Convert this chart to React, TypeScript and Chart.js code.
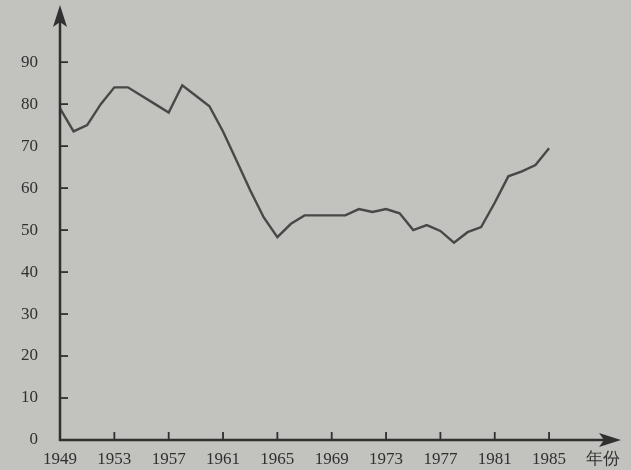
import React, { useEffect, useRef } from "react";
import { Chart, registerables } from "chart.js";

Chart.register(...registerables);

const years = [
  1949, 1950, 1951, 1952, 1953, 1954, 1955, 1956, 1957, 1958, 1959, 1960,
  1961, 1962, 1963, 1964, 1965, 1966, 1967, 1968, 1969, 1970, 1971, 1972,
  1973, 1974, 1975, 1976, 1977, 1978, 1979, 1980, 1981, 1982, 1983, 1984, 1985,
];
const values = [
  79, 73.5, 75, 80, 84, 84, 82, 80, 78, 84.5, 82, 79.5,
  73.5, 66.5, 59.5, 53, 48.3, 51.5, 53.5, 53.5, 53.5, 53.5, 55, 54.3,
  55, 54, 50, 51.2, 49.8, 47, 49.5, 50.7, 56.5, 62.8, 64, 65.5, 69.5,
];
const xTickValues = [1949, 1953, 1957, 1961, 1965, 1969, 1973, 1977, 1981, 1985, 1989];
const xTickMarks = [1953, 1957, 1961, 1965, 1969, 1973, 1977, 1981, 1985];
const xAxisLabel = "年份";
const yTickValues = [0, 10, 20, 30, 40, 50, 60, 70, 80, 90];

const BG = "#c2c2be";
const INK = "#303030";

const axesPlugin = {
  id: "axesArrows",
  beforeDraw(chart: any) {
    const { ctx, width, height } = chart;
    ctx.save();
    ctx.fillStyle = BG;
    ctx.fillRect(0, 0, width, height);
    ctx.restore();
  },
  afterDraw(chart: any) {
    const { ctx, chartArea, scales } = chart;
    const x0 = chartArea.left;
    const y0 = chartArea.bottom;
    ctx.save();
    ctx.strokeStyle = INK;
    ctx.fillStyle = INK;
    ctx.lineWidth = 2.5;
    const topY = 5;
    // y axis
    ctx.beginPath();
    ctx.moveTo(x0, y0 + 1);
    ctx.lineTo(x0, topY + 14);
    ctx.stroke();
    // x axis
    const tipX = 621;
    ctx.beginPath();
    ctx.moveTo(x0 - 1, y0);
    ctx.lineTo(tipX - 12, y0);
    ctx.stroke();
    // y arrow
    ctx.beginPath();
    ctx.moveTo(x0, topY);
    ctx.lineTo(x0 - 7, topY + 22);
    ctx.lineTo(x0, topY + 17);
    ctx.lineTo(x0 + 7, topY + 22);
    ctx.closePath();
    ctx.fill();
    // x arrow
    ctx.beginPath();
    ctx.moveTo(tipX, y0);
    ctx.lineTo(tipX - 22, y0 - 7);
    ctx.lineTo(tipX - 17, y0);
    ctx.lineTo(tipX - 22, y0 + 7);
    ctx.closePath();
    ctx.fill();
    // tick marks (inside)
    ctx.lineWidth = 1.8;
    for (const v of yTickValues) {
      if (v === 0) continue;
      const py = scales.y.getPixelForValue(v);
      ctx.beginPath();
      ctx.moveTo(x0, py);
      ctx.lineTo(x0 + 8, py);
      ctx.stroke();
    }
    for (const v of xTickMarks) {
      const px = scales.x.getPixelForValue(v);
      ctx.beginPath();
      ctx.moveTo(px, y0);
      ctx.lineTo(px, y0 - 8);
      ctx.stroke();
    }
    ctx.restore();
  },
};

export default function App() {
  const ref = useRef<HTMLCanvasElement | null>(null);

  useEffect(() => {
    document.body.style.margin = "0";
    document.body.style.background = BG;
    const canvas = ref.current;
    if (!canvas) return;
    const font = { family: "'Liberation Serif', 'DejaVu Serif', serif", size: 17 };
    const chart = new Chart(canvas, {
      type: "line",
      data: {
        datasets: [
          {
            data: years.map((y, i) => ({ x: y, y: values[i] })),
            borderColor: "#484848",
            borderWidth: 2.4,
            pointRadius: 0,
            tension: 0,
            fill: false,
          },
        ],
      },
      options: {
        animation: false,
        responsive: false,
        maintainAspectRatio: false,
        layout: { padding: { top: 0, right: 14, bottom: 0, left: 0 } },
        plugins: {
          legend: { display: false },
          tooltip: { enabled: false },
        },
        scales: {
          x: {
            type: "linear",
            min: 1949,
            max: 1990,
            border: { display: false },
            grid: { display: false, drawTicks: false },
            afterBuildTicks: (s: any) => {
              s.ticks = xTickValues.map((v) => ({ value: v }));
            },
            afterFit: (s: any) => {
              s.height = 30;
              s.paddingLeft = 0;
              s.paddingRight = 0;
            },
            ticks: {
              autoSkip: false,
              maxRotation: 0,
              padding: 9,
              color: INK,
              font,
              callback: (v: any) => (Number(v) === 1989 ? xAxisLabel : String(v)),
            },
          },
          y: {
            min: 0,
            max: 104.8,
            border: { display: false },
            grid: { display: false, drawTicks: false },
            afterBuildTicks: (s: any) => {
              s.ticks = yTickValues.map((v) => ({ value: v }));
            },
            afterFit: (s: any) => {
              s.width = 60;
              s.paddingTop = 0;
              s.paddingBottom = 0;
            },
            ticks: {
              autoSkip: false,
              padding: 22,
              color: INK,
              font,
              callback: (v: any) => String(v),
            },
          },
        },
      },
      plugins: [axesPlugin],
    } as any);
    return () => chart.destroy();
  }, []);

  return (
    <div style={{ width: 631, height: 470, background: BG }}>
      <canvas ref={ref} width={631} height={470} style={{ display: "block" }} />
    </div>
  );
}
